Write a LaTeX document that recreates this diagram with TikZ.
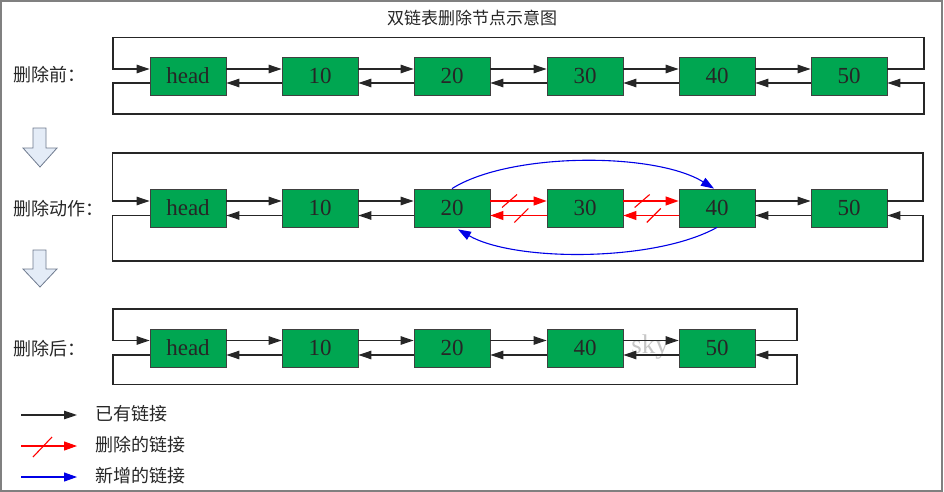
\documentclass[tikz,border=0pt]{standalone}
\usepackage{fontspec}
\newfontfamily\cjk{Noto Sans CJK SC}
\newfontfamily\numf{Liberation Serif}
\usetikzlibrary{arrows.meta}
\definecolor{boxgreen}{RGB}{0,166,81}
\definecolor{arrfill}{RGB}{228,236,247}
\definecolor{arrdraw}{RGB}{110,122,142}
\definecolor{newblue}{RGB}{0,0,230}
\begin{document}
\begin{tikzpicture}[x=1pt,y=-1pt,
  box/.style={draw=black!75, line width=0.8pt, fill=boxgreen, minimum width=76pt, minimum height=38pt, inner sep=0pt, font=\numf\fontsize{23}{25}\selectfont, text=black!85},
  tipa/.style={-{Triangle[length=13pt,width=8.5pt]}},
  link/.style={draw=black!85, line width=1.1pt, tipa},
  loopline/.style={draw=black!85, line width=1.1pt},
  dellink/.style={draw=red, line width=1.1pt, -{Triangle[length=13pt,width=9pt]}},
  slash/.style={draw=red, line width=1.1pt},
  newlink/.style={draw=newblue, line width=1.1pt, -{Triangle[length=13pt,width=9pt]}},
  lbl/.style={font=\cjk\fontsize{18}{21}\selectfont, text=black!85, inner sep=0pt, anchor=west},
  leg/.style={font=\cjk\fontsize{18}{21}\selectfont, text=black!85, inner sep=0pt, anchor=west},
  downarrow/.style={draw=arrdraw, fill=arrfill, line width=0.8pt, line join=miter},
  frame/.style={draw=black!50, line width=2pt}
]
\useasboundingbox (0,0) rectangle (944,492);
\draw[frame] (1,1) rectangle (942,491);

% title
\node[font=\cjk\fontsize{17}{20}\selectfont, text=black!85] (title) at (472,18) {双链表删除节点示意图};

% watermark
\node[font=\numf\fontsize{27}{29}\selectfont, text=black!22] (wm) at (650,347) {sky};

% ---------- row 1 ----------
\node[lbl] (lab1) at (13,75) {删除前：};
\node[box] (a0) at (188,76) {head};
\node[box] (a1) at (320,76) {10};
\node[box] (a2) at (452,76) {20};
\node[box] (a3) at (585,76) {30};
\node[box] (a4) at (717,76) {40};
\node[box] (a5) at (849,76) {50};
\foreach \i/\j in {a0/a1,a1/a2,a2/a3,a3/a4,a4/a5}{
  \draw[link] ([yshift=7pt]\i.east) -- ([yshift=7pt]\j.west);
  \draw[link] ([yshift=-7pt]\j.west) -- ([yshift=-7pt]\i.east);
}
\coordinate (r1tl) at (113,37.5);
\coordinate (r1tr) at (924,37.5);
\coordinate (r1bl) at (113,114);
\coordinate (r1br) at (924,114);
\draw[link] ([yshift=7pt]a5.east) -| (r1tr) -- (r1tl) |- ([yshift=7pt]a0.west);
\draw[link] ([yshift=-7pt]a0.west) -| (r1bl) -- (r1br) |- ([yshift=-7pt]a5.east);

% down arrow 1
\draw[downarrow] (33,128) -- (46,128) -- (46,148) -- (57,148) -- (40,167) -- (23,148) -- (33,148) -- cycle;

% ---------- row 2 ----------
\node[lbl] (lab2) at (13,209) {删除动作：};
\node[box] (b0) at (188,208) {head};
\node[box] (b1) at (320,208) {10};
\node[box] (b2) at (452,208) {20};
\node[box] (b3) at (585,208) {30};
\node[box] (b4) at (717,208) {40};
\node[box] (b5) at (849,208) {50};
\foreach \i/\j in {b0/b1,b1/b2,b4/b5}{
  \draw[link] ([yshift=7pt]\i.east) -- ([yshift=7pt]\j.west);
  \draw[link] ([yshift=-7.5pt]\j.west) -- ([yshift=-7.5pt]\i.east);
}
% deleted links
\foreach \i/\j in {b2/b3,b3/b4}{
  \draw[dellink] ([yshift=7pt]\i.east) -- ([yshift=7pt]\j.west) coordinate[pos=0.34] (s\i u);
  \draw[dellink] ([yshift=-7.5pt]\j.west) -- ([yshift=-7.5pt]\i.east) coordinate[pos=0.45] (s\i d);
  \draw[slash] ([shift={(-7.5,6.5)}]s\i u) -- ([shift={(7.5,-6.5)}]s\i u);
  \draw[slash] ([shift={(-7,7)}]s\i d) -- ([shift={(7,-7)}]s\i d);
}
% new links
\draw[newlink] (b2.north) .. controls (510,152) and (655,152) .. ([xshift=-3pt]b4.north);
\draw[newlink] (b4.south) .. controls (655,262) and (515,262) .. ([xshift=6pt,yshift=-2pt]b2.south);

\coordinate (r2tl) at (112.5,153);
\coordinate (r2tr) at (923,153);
\coordinate (r2bl) at (112.5,261);
\coordinate (r2br) at (923,261);
\draw[link] ([yshift=7pt]b5.east) -| (r2tr) -- (r2tl) |- ([yshift=7pt]b0.west);
\draw[link] ([yshift=-7.5pt]b0.west) -| (r2bl) -- (r2br) |- ([yshift=-7.5pt]b5.east);

% down arrow 2
\draw[downarrow] (33,250) -- (46,250) -- (46,269) -- (57,269) -- (40,287) -- (23,269) -- (33,269) -- cycle;

% ---------- row 3 ----------
\node[lbl] (lab3) at (13,349) {删除后：};
\node[box] (c0) at (188,348) {head};
\node[box] (c1) at (320,348) {10};
\node[box] (c2) at (452,348) {20};
\node[box] (c3) at (585,348) {40};
\node[box] (c4) at (717,348) {50};
\foreach \i/\j in {c0/c1,c1/c2,c2/c3,c3/c4}{
  \draw[link] ([yshift=7.5pt]\i.east) -- ([yshift=7.5pt]\j.west);
  \draw[link] ([yshift=-7pt]\j.west) -- ([yshift=-7pt]\i.east);
}
\coordinate (r3tl) at (113,309);
\coordinate (r3tr) at (797,309);
\coordinate (r3bl) at (113,384.5);
\coordinate (r3br) at (797,384.5);
\draw[link] ([yshift=7.5pt]c4.east) -| (r3tr) -- (r3tl) |- ([yshift=7.5pt]c0.west);
\draw[link] ([yshift=-7pt]c0.west) -| (r3bl) -- (r3br) |- ([yshift=-7pt]c4.east);

% ---------- legend ----------
\coordinate (l1s) at (21,415); \coordinate (l1e) at (77,415);
\coordinate (l2s) at (21,446); \coordinate (l2e) at (77,446);
\coordinate (l3s) at (21,477); \coordinate (l3e) at (77,477);
\draw[link] (l1s) -- (l1e);
\draw[dellink] (l2s) -- (l2e);
\draw[slash] (33,457) -- (52,437);
\draw[newlink] (l3s) -- (l3e);
\node[leg] (t1) at (95,414) {已有链接};
\node[leg] (t2) at (95,445) {删除的链接};
\node[leg] (t3) at (95,476) {新增的链接};
\end{tikzpicture}
\end{document}
